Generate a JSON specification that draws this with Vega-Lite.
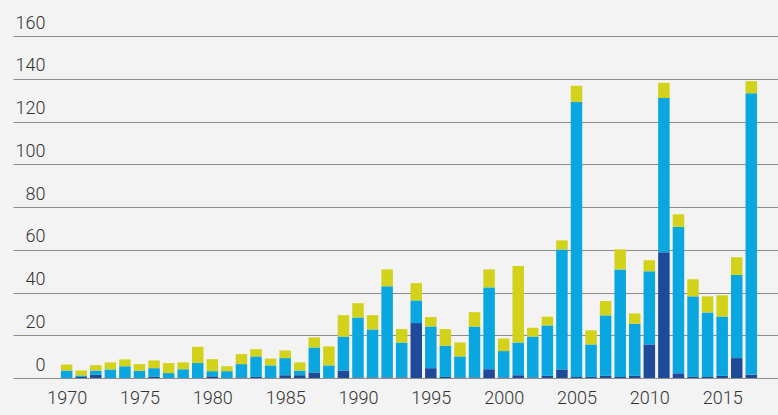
{
  "$schema": "https://vega.github.io/schema/vega-lite/v6.json",
  "width": 765,
  "height": 342,
  "autosize": "none",
  "padding": {"left": 13, "top": 36, "right": 0, "bottom": 37},
  "background": "#f3f3f3",
  "config": {
    "view": {"stroke": null},
    "font": "Roboto",
    "axis": {"labelFont": "Roboto", "labelFontWeight": 300, "labelFontSize": 18, "labelColor": "#333333"}
  },
  "data": {
    "values": [
      {"year": 1970, "A": 0, "B": 3.5, "C": 2.8},
      {"year": 1971, "A": 0.5, "B": 0.7, "C": 2.3},
      {"year": 1972, "A": 1.5, "B": 2, "C": 2.5},
      {"year": 1973, "A": 0, "B": 4, "C": 3.3},
      {"year": 1974, "A": 0, "B": 5.5, "C": 3.2},
      {"year": 1975, "A": 0, "B": 3.4, "C": 3.1},
      {"year": 1976, "A": 0.5, "B": 4.1, "C": 3.6},
      {"year": 1977, "A": 0, "B": 2.3, "C": 4.7},
      {"year": 1978, "A": 0, "B": 4.1, "C": 3.2},
      {"year": 1979, "A": 0, "B": 7, "C": 7.6},
      {"year": 1980, "A": 0.8, "B": 2.4, "C": 5.6},
      {"year": 1981, "A": 0, "B": 3.2, "C": 2.3},
      {"year": 1982, "A": 0.3, "B": 6.2, "C": 4.7},
      {"year": 1983, "A": 0.5, "B": 9.6, "C": 3.4},
      {"year": 1984, "A": 0, "B": 5.9, "C": 3.2},
      {"year": 1985, "A": 1.3, "B": 8, "C": 3.6},
      {"year": 1986, "A": 1.3, "B": 2.2, "C": 3.8},
      {"year": 1987, "A": 2.6, "B": 11.7, "C": 4.7},
      {"year": 1988, "A": 0, "B": 5.9, "C": 8.9},
      {"year": 1989, "A": 3.5, "B": 15.9, "C": 10},
      {"year": 1990, "A": 0.3, "B": 28, "C": 6.7},
      {"year": 1991, "A": 0.3, "B": 22.4, "C": 6.7},
      {"year": 1992, "A": 0.3, "B": 42.6, "C": 7.9},
      {"year": 1993, "A": 0.3, "B": 16.3, "C": 6.3},
      {"year": 1994, "A": 25.7, "B": 10.6, "C": 8.1},
      {"year": 1995, "A": 4.6, "B": 19.5, "C": 4.4},
      {"year": 1996, "A": 0.5, "B": 14.6, "C": 7.8},
      {"year": 1997, "A": 0.3, "B": 9.8, "C": 6.5},
      {"year": 1998, "A": 0.3, "B": 23.8, "C": 6.7},
      {"year": 1999, "A": 4.1, "B": 38.3, "C": 8.4},
      {"year": 2000, "A": 0.3, "B": 12.3, "C": 5.9},
      {"year": 2001, "A": 1.3, "B": 15.3, "C": 35.8},
      {"year": 2002, "A": 0.3, "B": 19.1, "C": 4.1},
      {"year": 2003, "A": 1, "B": 23.6, "C": 4.1},
      {"year": 2004, "A": 4, "B": 56.1, "C": 4.3},
      {"year": 2005, "A": 0.5, "B": 128.7, "C": 7.5},
      {"year": 2006, "A": 0.5, "B": 15.2, "C": 6.6},
      {"year": 2007, "A": 1, "B": 28.3, "C": 6.7},
      {"year": 2008, "A": 0.5, "B": 50.3, "C": 9.4},
      {"year": 2009, "A": 1, "B": 24.4, "C": 4.8},
      {"year": 2010, "A": 15.7, "B": 34.2, "C": 5.2},
      {"year": 2011, "A": 58.8, "B": 72.2, "C": 7.1},
      {"year": 2012, "A": 2.2, "B": 68.5, "C": 5.9},
      {"year": 2013, "A": 0.5, "B": 37.7, "C": 8},
      {"year": 2014, "A": 0.5, "B": 30.2, "C": 7.5},
      {"year": 2015, "A": 1, "B": 27.8, "C": 9.9},
      {"year": 2016, "A": 9.3, "B": 38.9, "C": 8.3},
      {"year": 2017, "A": 1.6, "B": 131.6, "C": 5.7}
    ]
  },
  "transform": [{"fold": ["A", "B", "C"], "as": ["series", "value"]}],
  "mark": {"type": "bar", "size": 11.5},
  "encoding": {
    "x": {
      "field": "year",
      "type": "quantitative",
      "scale": {"domain": [1966.66, 2018.49], "nice": false, "zero": false},
      "axis": {
        "title": null,
        "values": [1970, 1975, 1980, 1985, 1990, 1995, 2000, 2005, 2010, 2015],
        "format": "d",
        "grid": false,
        "domain": false,
        "ticks": false,
        "labelBaseline": "alphabetic",
        "labelPadding": 25,
        "labelFlush": false,
        "labelOverlap": false
      }
    },
    "y": {
      "field": "value",
      "type": "quantitative",
      "stack": "zero",
      "scale": {"domain": [0, 160], "nice": false},
      "axis": {
        "title": null,
        "values": [0, 20, 40, 60, 80, 100, 120, 140, 160],
        "grid": true,
        "gridColor": "#8c8c8c",
        "gridWidth": 1,
        "gridOpacity": 1,
        "domain": false,
        "ticks": false,
        "tickSize": 0,
        "labelAlign": "right",
        "labelBaseline": "alphabetic",
        "labelPadding": -32,
        "labelOffset": -8,
        "labelFlush": false,
        "labelOverlap": false
      }
    },
    "color": {
      "field": "series",
      "type": "nominal",
      "scale": {"domain": ["A", "B", "C"], "range": ["#1f4a9a", "#0aa6e0", "#d3d21b"]},
      "legend": null
    },
    "order": {"field": "series", "sort": "ascending"}
  }
}
